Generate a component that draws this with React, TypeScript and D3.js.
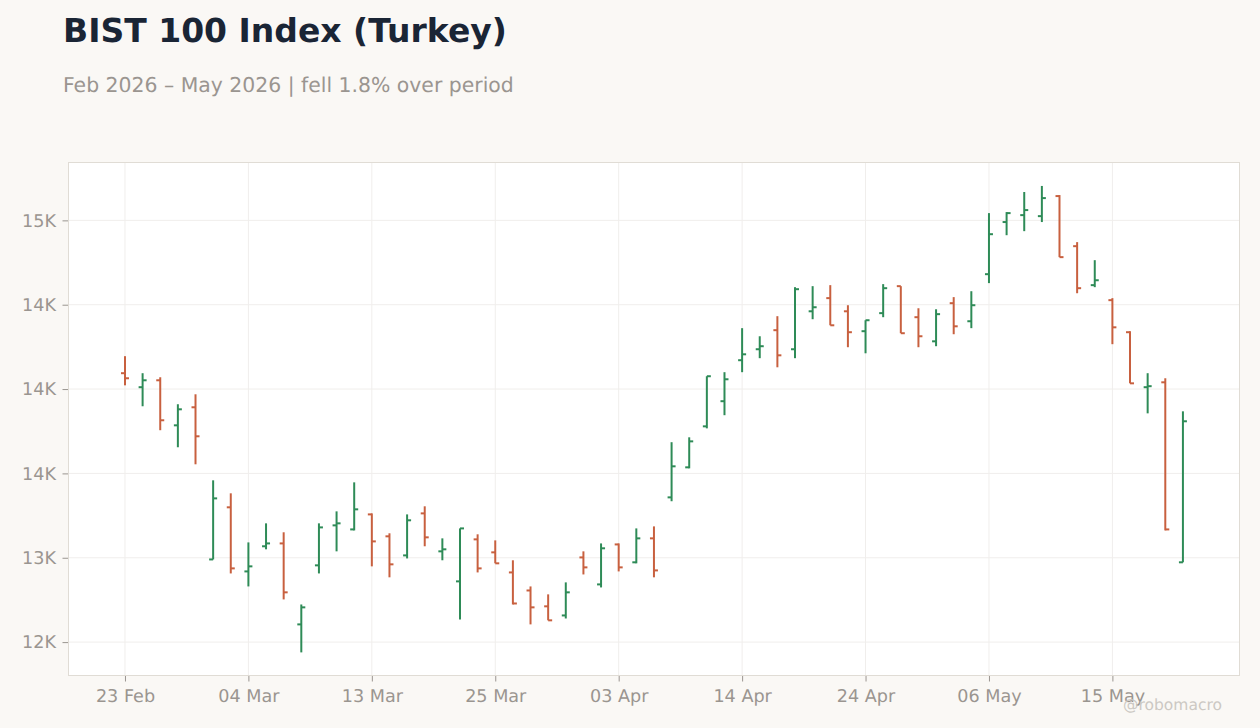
import { useEffect, useRef } from 'react';
import * as d3 from 'd3';

const dates = [
  '23 Feb', '24 Feb', '25 Feb', '26 Feb', '27 Feb', '02 Mar', '03 Mar', '04 Mar', '05 Mar', '06 Mar',
  '09 Mar', '10 Mar', '11 Mar', '12 Mar', '13 Mar', '16 Mar', '17 Mar', '18 Mar', '19 Mar', '23 Mar',
  '24 Mar', '25 Mar', '26 Mar', '27 Mar', '30 Mar', '31 Mar', '01 Apr', '02 Apr', '03 Apr', '06 Apr',
  '07 Apr', '08 Apr', '09 Apr', '10 Apr', '13 Apr', '14 Apr', '15 Apr', '16 Apr', '17 Apr', '20 Apr',
  '21 Apr', '22 Apr', '24 Apr', '27 Apr', '28 Apr', '29 Apr', '30 Apr', '04 May', '05 May', '06 May',
  '07 May', '08 May', '11 May', '12 May', '13 May', '14 May', '15 May', '18 May', '20 May', '21 May', '22 May',
];

const opens = [
  14094, 14011, 14052, 13785, 13892, 12990, 13299, 12919, 13068, 13085,
  12605, 12955, 13192, 13168, 13257, 13127, 13014, 13263, 13038, 12860,
  13109, 13032, 12913, 12806, 12712, 12658, 13002, 12842, 13079, 12973,
  13115, 13358, 13536, 13779, 13928, 14171, 14236, 14349, 14236, 14461,
  14539, 14461, 14343, 14450, 14610, 14426, 14283, 14509, 14402, 14681,
  14990, 15031, 15025, 15144, 14847, 14616, 14527, 14337, 14011, 14040, 12973,
];
const highs = [
  14195, 14094, 14070, 13910, 13969, 13459, 13382, 13091, 13204, 13151,
  12723, 13204, 13275, 13447, 13263, 13145, 13257, 13305, 13115, 13174,
  13139, 13103, 12985, 12830, 12783, 12854, 13038, 13085, 13085, 13174,
  13186, 13685, 13714, 14076, 14100, 14361, 14313, 14432, 14604, 14610,
  14616, 14497, 14408, 14622, 14610, 14479, 14473, 14545, 14580, 15043,
  15049, 15168, 15204, 15150, 14871, 14764, 14539, 14343, 14094, 14064, 13868,
];
const lows = [
  14022, 13898, 13756, 13655, 13554, 12990, 12907, 12830, 13050, 12753,
  12439, 12907, 13038, 13162, 12949, 12884, 12996, 13068, 12985, 12634,
  12913, 12967, 12723, 12605, 12629, 12640, 12901, 12824, 12919, 12967,
  12884, 13335, 13530, 13767, 13845, 14100, 14183, 14129, 14183, 14414,
  14378, 14248, 14212, 14426, 14331, 14248, 14254, 14325, 14361, 14628,
  14912, 14936, 14990, 14782, 14568, 14604, 14266, 14034, 13856, 13162, 12973,
];
const closes = [
  14064, 14052, 13815, 13880, 13720, 13352, 12937, 12949, 13085, 12795,
  12706, 13180, 13204, 13287, 13097, 12961, 13222, 13121, 13050, 13174,
  12937, 12967, 12729, 12706, 12629, 12795, 12943, 13056, 12943, 13115,
  12925, 13542, 13690, 14076, 14058, 14206, 14254, 14200, 14592, 14485,
  14378, 14337, 14408, 14598, 14331, 14313, 14444, 14372, 14497, 14918,
  15043, 15061, 15132, 14782, 14598, 14645, 14366, 14034, 14017, 13168, 13809,
];

const xTicks = ['23 Feb', '04 Mar', '13 Mar', '25 Mar', '03 Apr', '14 Apr', '24 Apr', '06 May', '15 May'];
const yTicks = [12500, 13000, 13500, 14000, 14500, 15000];
const yTickLabels = ['12K', '13K', '14K', '14K', '14K', '15K'];

const UP = '#2e8b57';
const DOWN = '#c8603f';
const MUTED = '#9a9590';
const GRID = '#f0eeec';
const BORDER = '#e0dcd5';
const FONT = '"DejaVu Sans", sans-serif';

export default function App() {
  const svgRef = useRef<SVGSVGElement>(null);

  useEffect(() => {
    if (!svgRef.current) return;
    const width = 1260;
    const height = 728;
    const plot = { left: 68.5, right: 1239.5, top: 162.5, bottom: 675.5 };

    const svg = d3.select(svgRef.current);
    svg.selectAll('*').remove();
    svg.style('text-rendering', 'geometricPrecision');

    const x = d3.scalePoint<string>().domain(dates).range([68.2, 1239.7]).padding(3.22);
    const y = d3.scaleLinear().domain([12302, 15343]).range([plot.bottom, plot.top]);

    svg.append('rect').attr('width', width).attr('height', height).attr('fill', '#faf8f5');

    // plot background, border goes on after the grid
    svg
      .append('rect')
      .attr('x', plot.left)
      .attr('y', plot.top)
      .attr('width', plot.right - plot.left)
      .attr('height', plot.bottom - plot.top)
      .attr('fill', '#ffffff');

    // grid
    svg
      .append('g')
      .selectAll('line')
      .data(xTicks)
      .enter()
      .append('line')
      .attr('x1', d => x(d)!)
      .attr('x2', d => x(d)!)
      .attr('y1', plot.top)
      .attr('y2', plot.bottom)
      .attr('stroke', GRID);
    svg
      .append('g')
      .selectAll('line')
      .data(yTicks)
      .enter()
      .append('line')
      .attr('x1', plot.left)
      .attr('x2', plot.right)
      .attr('y1', d => y(d))
      .attr('y2', d => y(d))
      .attr('stroke', GRID);

    // axes
    const xAxis = d3.axisBottom(x).tickValues(xTicks).tickSize(6).tickPadding(8);
    const yAxis = d3
      .axisLeft(y)
      .tickValues(yTicks)
      .tickSize(6)
      .tickPadding(6.5)
      .tickFormat((_, i) => yTickLabels[i]);

    const gx = svg.append('g').attr('transform', `translate(0,${plot.bottom})`).call(xAxis);
    const gy = svg.append('g').attr('transform', `translate(${plot.left},0)`).call(yAxis);
    [gx, gy].forEach(g => {
      g.select('.domain').remove();
      g.selectAll('line').attr('stroke', MUTED);
      g.selectAll('text').attr('fill', MUTED).style('font-family', FONT).style('font-size', '17.6px');
    });

    svg
      .append('rect')
      .attr('x', plot.left)
      .attr('y', plot.top)
      .attr('width', plot.right - plot.left)
      .attr('height', plot.bottom - plot.top)
      .attr('fill', 'none')
      .attr('stroke', BORDER)
      .attr('stroke-width', 1);

    // OHLC bars
    const bars = svg
      .append('g')
      .selectAll('g')
      .data(dates)
      .enter()
      .append('g')
      .attr('stroke', (_, i) => (closes[i] >= opens[i] ? UP : DOWN))
      .attr('stroke-width', 2);
    bars
      .append('line')
      .attr('x1', d => x(d)!)
      .attr('x2', d => x(d)!)
      .attr('y1', (_, i) => y(highs[i]))
      .attr('y2', (_, i) => y(lows[i]));
    bars
      .append('line')
      .attr('x1', d => x(d)! - 4)
      .attr('x2', d => x(d)!)
      .attr('y1', (_, i) => y(opens[i]))
      .attr('y2', (_, i) => y(opens[i]));
    bars
      .append('line')
      .attr('x1', d => x(d)!)
      .attr('x2', d => x(d)! + 4)
      .attr('y1', (_, i) => y(closes[i]))
      .attr('y2', (_, i) => y(closes[i]));

    // titles
    svg
      .append('text')
      .attr('x', 63)
      .attr('y', 42)
      .attr('fill', '#1a2535')
      .style('font-family', FONT)
      .style('font-weight', 'bold')
      .style('font-size', '33px')
      .text('BIST 100 Index (Turkey)');
    svg
      .append('text')
      .attr('x', 63)
      .attr('y', 92)
      .attr('fill', MUTED)
      .style('font-family', FONT)
      .style('font-size', '20.4px')
      .text('Feb 2026 – May 2026 | fell 1.8% over period');
    svg
      .append('text')
      .attr('x', 1222)
      .attr('y', 710)
      .attr('text-anchor', 'end')
      .attr('fill', '#ccc8c3')
      .style('font-family', FONT)
      .style('font-size', '15.5px')
      .text('@robomacro');
  }, []);

  return <svg ref={svgRef} width={1260} height={728} style={{ position: 'absolute', left: 0, top: 0, display: 'block' }} />;
}
